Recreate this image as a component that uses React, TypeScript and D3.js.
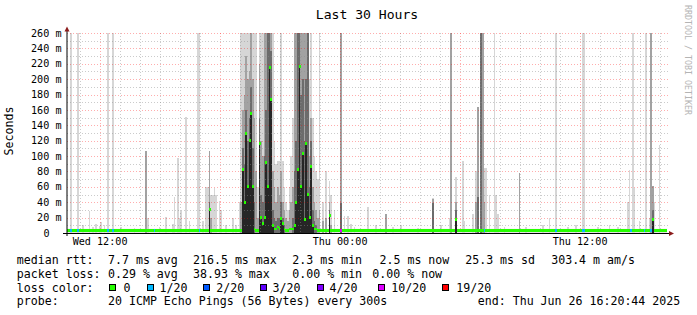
import React, { useEffect } from "react";
import * as d3 from "d3";

// ---------- data ----------
const START = Date.UTC(2025, 5, 25, 10, 20, 44); // Wed Jun 25 10:20:44
const END = Date.UTC(2025, 5, 26, 16, 20, 44); // Thu Jun 26 16:20:44
const STEP_MIN = 5; // 300 s probe step
const STEP_COUNT = 360;

const TITLE = "Last 30 Hours";
const Y_LABEL = "Seconds";
const Y_TICKS_MS = [0, 20, 40, 60, 80, 100, 120, 140, 160, 180, 200, 220, 240, 260];
const Y_MINOR_MS = [10, 30, 50, 70, 90, 110, 130, 150, 170, 190, 210, 230, 250];

// typical (quiet) median and smoke top, in ms
const BASE_MEDIAN_MS = 3.3;
const BASE_SMOKE_MS = 5.5;

// [step, median ms, dark-grey top ms, mid-grey top ms, light-grey top ms]
const SMOKE_COLS: [number, number, number, number, number][] = [
  [2, 3.3, 0, 0, 300], [6, 3.3, 0, 0, 300], [9, 3.3, 0, 0, 10], [13, 3.3, 0, 0, 28],
  [15, 3.3, 0, 0, 8], [17, 3.3, 0, 0, 12], [19, 3.3, 0, 0, 9], [20, 3.3, 0, 0, 14],
  [22, 3.3, 0, 0, 10], [24, 3.3, 0, 0, 300], [27, 3.3, 0, 0, 300], [32, 3.3, 0, 0, 8],
  [40, 3.3, 0, 0, 6], [47, 3.3, 0, 106, 106], [48, 3.3, 0, 0, 20], [55, 3.3, 0, 0, 8],
  [59, 3.3, 0, 0, 21], [63, 3.3, 0, 0, 12], [64, 3.3, 0, 0, 47], [66, 3.3, 0, 0, 97],
  [67, 3.3, 0, 0, 20], [68, 3.3, 0, 0, 28], [71, 3.3, 0, 0, 151], [73, 3.3, 0, 0, 15],
  [78, 3.3, 0, 0, 300], [79, 3.3, 0, 0, 300], [81, 3.3, 0, 0, 15], [83, 3.3, 0, 0, 60],
  [84, 3.3, 0, 0, 60], [85, 30, 40, 106, 106], [86, 3.3, 0, 20, 49], [87, 3.3, 0, 0, 49],
  [88, 3.3, 0, 0, 58], [89, 3.3, 0, 0, 50], [91, 3.3, 0, 0, 41], [92, 3.3, 0, 0, 30],
  [95, 3.3, 0, 0, 10], [99, 3.3, 0, 0, 20], [101, 3.3, 0, 0, 10],
  [103, 3.3, 0, 0, 40], [104, 3.3, 0, 40, 300], [105, 83, 110, 160, 300], [106, 40, 90, 180, 300],
  [107, 129, 160, 230, 300], [108, 60, 120, 200, 300], [109, 120, 150, 210, 300], [110, 156, 190, 260, 300],
  [111, 60, 110, 200, 300], [112, 5, 40, 150, 300], [113, 3.3, 0, 80, 300], [114, 3.3, 0, 20, 60],
  [115, 116, 150, 220, 300], [116, 20, 50, 120, 300], [117, 13, 40, 100, 300], [118, 20, 100, 300, 300],
  [119, 92, 160, 260, 300], [120, 60, 300, 300, 300], [121, 215, 300, 300, 300], [122, 174, 236, 300, 300],
  [123, 10, 30, 80, 300], [124, 5, 20, 60, 120], [125, 5, 15, 40, 90], [126, 8, 20, 60, 93],
  [127, 6, 20, 50, 93], [128, 19, 40, 80, 300], [129, 13, 20, 40, 93], [130, 5, 10, 30, 60],
  [131, 3.3, 0, 20, 40], [132, 3.3, 0, 15, 30], [133, 5, 0, 30, 60], [134, 5, 0, 40, 100],
  [135, 5, 20, 60, 150], [136, 10, 80, 300, 300], [137, 40, 120, 300, 300], [138, 83, 300, 300, 300],
  [139, 217, 300, 300, 300], [140, 60, 180, 300, 300], [141, 104, 200, 300, 300], [142, 18, 120, 300, 300],
  [143, 116, 200, 300, 300], [144, 50, 300, 300, 300], [145, 20, 60, 100, 200], [146, 87, 120, 150, 300],
  [147, 10, 30, 60, 150], [148, 5, 15, 40, 100], [149, 5, 10, 30, 80], [150, 3.3, 0, 20, 70],
  [151, 3.3, 0, 30, 300], [153, 3.3, 0, 15, 40], [155, 3.3, 0, 20, 80], [157, 23, 30, 40, 67],
  [158, 3.3, 0, 10, 50], [160, 3.3, 0, 0, 30], [164, 3.3, 39, 300, 300],
  [166, 3.3, 0, 0, 22], [168, 3.3, 0, 0, 22], [170, 3.3, 0, 0, 12], [172, 3.3, 0, 0, 8],
  [180, 3.3, 0, 0, 34], [185, 3.3, 0, 0, 10], [191, 3.3, 0, 25, 25], [195, 3.3, 0, 0, 8],
  [200, 3.3, 0, 0, 10], [210, 3.3, 0, 0, 6], [219, 3.3, 39, 44, 45], [224, 3.3, 0, 0, 10],
  [229, 3.3, 0, 0, 20], [230, 3.3, 0, 300, 300], [233, 18, 30, 40, 73], [237, 3.3, 0, 0, 93],
  [238, 3.3, 0, 0, 15], [243, 3.3, 0, 0, 25], [245, 3.3, 0, 40, 80], [246, 3.3, 47, 164, 164],
  [248, 3.3, 300, 300, 300], [249, 3.3, 0, 300, 300], [250, 3.3, 0, 40, 84], [251, 3.3, 0, 0, 84],
  [253, 3.3, 0, 0, 50], [256, 3.3, 0, 0, 300], [257, 3.3, 0, 0, 50], [258, 3.3, 0, 0, 25],
  [262, 3.3, 0, 0, 8], [271, 3.3, 0, 78, 78], [275, 3.3, 0, 0, 8], [285, 3.3, 0, 0, 10],
  [289, 3.3, 0, 0, 20], [293, 3.3, 0, 0, 300], [300, 3.3, 0, 0, 8], [305, 3.3, 0, 0, 10],
  [309, 3.3, 0, 0, 300], [310, 3.3, 0, 0, 300], [318, 3.3, 0, 0, 8], [325, 3.3, 0, 0, 10],
  [330, 3.3, 0, 0, 8], [336, 3.3, 0, 0, 40], [337, 3.3, 0, 0, 82], [339, 3.3, 0, 0, 300],
  [340, 3.3, 0, 0, 58], [343, 3.3, 0, 0, 15], [347, 3.3, 0, 0, 300], [349, 3.3, 0, 0, 20],
  [350, 3.3, 0, 300, 300], [351, 18, 30, 61, 61], [352, 3.3, 0, 0, 40], [355, 3.3, 0, 0, 114],
];

// [step, loss colour index]
const LOSS_STEPS: [number, number][] = [
  [2, 1], [6, 1], [24, 1], [27, 1], [52, 1], [79, 1], [164, 5], [250, 1],
  [293, 1], [309, 1], [310, 1], [338, 1], [346, 1], [350, 1],
];

const LOSS_COLORS = ["#26ff00", "#00b8ff", "#0059ff", "#5e00ff", "#7e00ff", "#dd00ff", "#ff0000"];
const LOSS_LABELS = ["0", "1/20", "2/20", "3/20", "4/20", "10/20", "19/20"];

const RTT_STATS = ["7.7 ms avg", "216.5 ms max", "2.3 ms min", "2.5 ms now", "25.3 ms sd", "303.4 m am/s"];
const LOSS_STATS = ["0.29 % avg", "38.93 % max", "0.00 % min", "0.00 % now"];
const PROBE_TEXT = "20 ICMP Echo Pings (56 Bytes) every 300s";
const END_TEXT = "end: Thu Jun 26 16:20:44 2025";

// ---------- layout ----------
const W = 697;
const H = 315;
const PL = 67;
const PR = 667;
const PT = 33;
const PB = 233;
const MONO = "'DejaVu Sans Mono', monospace";

const RTT_X = [108, 193, 292.3, 379.5, 465.2, 551.2];
const LOSS_X = [108, 193, 292.3, 372.3];
const BOX_X = [109.5, 147.2, 203.5, 260.5, 317.2, 378.8, 442.2];
const BOX_LABEL_X = [123.6, 159.6, 216.3, 272.6, 329.6, 391.3, 456.3];
const LINE_Y = [264, 277.8, 291.6, 305.4];

export default function App() {
  useEffect(() => {
    document.body.style.margin = "0";
  }, []);

  const x = d3.scaleUtc().domain([new Date(START), new Date(END)]).range([PL, PR]);
  const y = d3.scaleLinear().domain([0, 260]).range([PB, PT]).clamp(true);
  const t = (i: number) => new Date(START + i * STEP_MIN * 60000);

  const majorX = d3.utcHour.every(6)!.range(new Date(START), new Date(END));
  const minorX = d3.utcHour.range(new Date(START), new Date(END)).filter((d) => d.getUTCHours() % 6 !== 0);
  const labelX = d3.utcHour.every(12)!.range(new Date(START), new Date(END));
  const fmt = d3.utcFormat("%a %H:%M");

  const medMap = new Map<number, number>();
  SMOKE_COLS.forEach((c) => medMap.set(c[0], c[1]));
  const lossMap = new Map<number, number>();
  LOSS_STEPS.forEach((l) => lossMap.set(l[0], l[1]));
  const steps = d3.range(STEP_COUNT);

  const colRect = (i: number, v: number, fill: string, key: string) => {
    if (!(v > 0)) return null;
    const x0 = x(t(i));
    const x1 = x(t(i + 1));
    return <rect key={key} x={x0} y={y(v)} width={x1 - x0} height={y(0) - y(v)} fill={fill} />;
  };

  const crisp = (v: number) => Math.round(v) + 0.5;

  return (
    <svg
      width={W}
      height={H}
      style={{ position: "absolute", left: 0, top: 0, background: "#fff" }}
      fontFamily={MONO}
    >
      <rect x={0} y={0} width={W} height={H} fill="#ffffff" />

      {/* title */}
      <text x={367} y={18.8} textAnchor="middle" fontSize={13.1} fill="#000">{TITLE}</text>

      {/* watermark */}
      <text transform={`translate(684.5,5) rotate(90)`} fontSize={8.3} fill="#b4b4b4">RRDTOOL / TOBI OETIKER</text>

      {/* y label */}
      <text transform={`translate(13,131) rotate(-90)`} textAnchor="middle" fontSize={11.6} fill="#000">{Y_LABEL}</text>

      {/* baseline smoke */}
      <rect x={PL} y={y(BASE_SMOKE_MS)} width={PR - PL} height={y(0) - y(BASE_SMOKE_MS)} fill="#e4e4e4" />

      {/* smoke */}
      <g shapeRendering="crispEdges">
        {SMOKE_COLS.map((c) => colRect(c[0], c[4], "#d6d6d6", `l${c[0]}`))}
        {SMOKE_COLS.map((c) => colRect(c[0], c[3], "#a2a2a2", `m${c[0]}`))}
        {SMOKE_COLS.map((c) => colRect(c[0], c[2], "#6c6c6c", `d${c[0]}`))}
        {SMOKE_COLS.map((c) => (c[1] > 8 ? colRect(c[0], c[1], "#262626", `b${c[0]}`) : null))}
      </g>

      {/* grid */}
      <g fill="none" strokeWidth={1} strokeDasharray="1,2">
        {Y_MINOR_MS.map((v) => (
          <line key={`hm${v}`} x1={PL} x2={PR + 1} y1={crisp(y(v))} y2={crisp(y(v))} stroke="rgba(140,140,140,0.45)" />
        ))}
        {minorX.map((d) => (
          <line key={`vm${+d}`} x1={crisp(x(d))} x2={crisp(x(d))} y1={PT} y2={PB} stroke="rgba(140,140,140,0.45)" />
        ))}
        {Y_TICKS_MS.filter((v) => v > 0).map((v) => (
          <line key={`hM${v}`} x1={PL} x2={PR + 1} y1={crisp(y(v))} y2={crisp(y(v))} stroke="rgba(255,0,0,0.32)" />
        ))}
        {majorX.map((d) => (
          <line key={`vM${+d}`} x1={crisp(x(d))} x2={crisp(x(d))} y1={PT} y2={PB} stroke="rgba(255,0,0,0.32)" />
        ))}
      </g>

      {/* median bands coloured by loss */}
      <g shapeRendering="crispEdges">
        {steps.map((i) => {
          const med = medMap.get(i) ?? BASE_MEDIAN_MS;
          const loss = lossMap.get(i) ?? 0;
          const x0 = x(t(i));
          const x1 = x(t(i + 1));
          const big = med > 8;
          return (
            <rect
              key={`md${i}`}
              x={x0}
              y={y(med) - (big ? 1.5 : 1.2)}
              width={big ? Math.max(2, x1 - x0) : x1 - x0}
              height={big ? 3 : 2.4}
              fill={LOSS_COLORS[loss]}
            />
          );
        })}
      </g>

      {/* axes */}
      <line x1={63} x2={670} y1={PB + 0.5} y2={PB + 0.5} stroke="#000" strokeWidth={1} />
      <line x1={PL} x2={PL} y1={PB + 3} y2={30} stroke="#000" strokeWidth={1} />
      <path d={`M${PL},26.5 L${PL - 2.5},31.5 L${PL + 2.5},31.5 Z`} fill="#8b1c1c" />
      <path d={`M674,${PB + 0.5} L669,${PB - 2} L669,${PB + 3} Z`} fill="#8b1c1c" />

      {/* y tick labels */}
      <g fontSize={10.15} fill="#000">
        {Y_TICKS_MS.map((v) =>
          v === 0 ? (
            <text key={`yt${v}`} x={49.5} y={y(v) + 3.6} textAnchor="end">0</text>
          ) : (
            <text key={`yt${v}`} x={61.5} y={y(v) + 3.6} textAnchor="end">{`${v} m`}</text>
          )
        )}
      </g>

      {/* x tick labels */}
      <g fontSize={10.15} fill="#000">
        {labelX.map((d) => (
          <text key={`xt${+d}`} x={x(d)} y={245} textAnchor="middle">{fmt(d)}</text>
        ))}
      </g>

      {/* legend */}
      <g fontSize={11.6} fill="#000">
        <text x={16.8} y={LINE_Y[0]}>median rtt:</text>
        {RTT_STATS.map((s, k) => (
          <text key={`r${k}`} x={RTT_X[k]} y={LINE_Y[0]}>{s}</text>
        ))}
        <text x={16.8} y={LINE_Y[1]}>packet loss:</text>
        {LOSS_STATS.map((s, k) => (
          <text key={`p${k}`} x={LOSS_X[k]} y={LINE_Y[1]}>{s}</text>
        ))}
        <text x={16.8} y={LINE_Y[2]}>loss color:</text>
        {LOSS_COLORS.map((c, k) => (
          <g key={`lc${k}`}>
            <rect x={BOX_X[k]} y={284.5} width={6} height={6} fill={c} stroke="#000" strokeWidth={1} shapeRendering="crispEdges" />
            <text x={BOX_LABEL_X[k]} y={LINE_Y[2]}>{LOSS_LABELS[k]}</text>
          </g>
        ))}
        <text x={16.8} y={LINE_Y[3]}>probe:</text>
        <text x={108} y={LINE_Y[3]}>{PROBE_TEXT}</text>
        <text x={477.8} y={LINE_Y[3]}>{END_TEXT}</text>
      </g>
    </svg>
  );
}
